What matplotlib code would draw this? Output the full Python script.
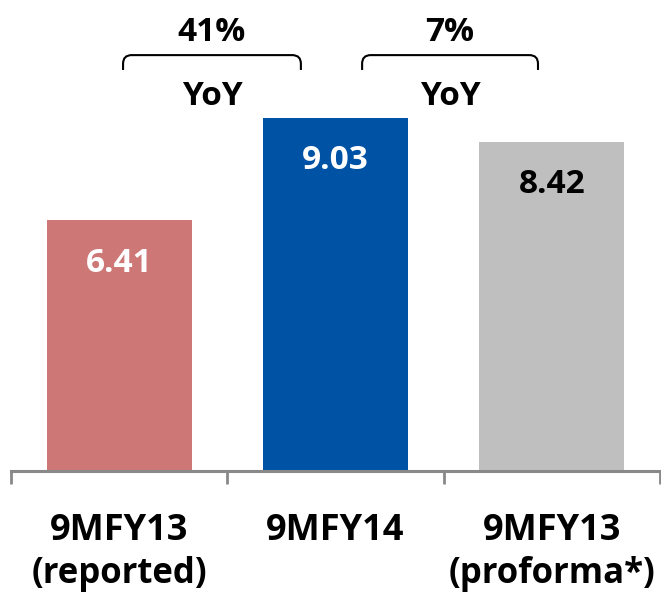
import matplotlib.pyplot as plt
from matplotlib.path import Path
from matplotlib.patches import PathPatch

cat_line1 = ['9MFY13', '9MFY14', '9MFY13']
cat_line2 = ['(reported)', '', '(proforma*)']
values = [6.41, 9.03, 8.42]
value_labels = ['6.41', '9.03', '8.42']
growth = ['41%', '7%']
growth_note = 'YoY'

colors = ['#CE7777', '#0052A5', '#BFBFBF']
label_colors = ['white', 'white', 'black']

plt.rcParams['font.family'] = ['Open Sans', 'DejaVu Sans']

fig = plt.figure(figsize=(6.61, 5.98), dpi=100)
ax = fig.add_axes([11 / 661, 1 - 471 / 598, 649 / 661, 471 / 598])

x = list(range(len(values)))
ax.bar(x, values, width=0.67, color=colors, zorder=2)
ax.set_xlim(-0.5, 2.5)
ax.set_ylim(0, 12.05)

for i, v in enumerate(values):
    ax.text(i, v - 1.31, value_labels[i], ha='center', va='baseline',
            fontsize=24, fontweight='bold', color=label_colors[i])

# axis styling
for s in ['top', 'left', 'right']:
    ax.spines[s].set_visible(False)
ax.spines['bottom'].set_color('#898989')
ax.spines['bottom'].set_linewidth(2.2)
ax.set_yticks([])
ax.set_xticks([-0.5, 0.5, 1.5, 2.5])
ax.tick_params(axis='x', length=9.5, width=2, color='#898989', labelbottom=False,
               direction='out')
for i in x:
    ax.text(i, -1.765, cat_line1[i], ha='center', va='baseline', fontsize=26,
            fontweight='bold')
    ax.text(i, -2.864, cat_line2[i], ha='center', va='baseline', fontsize=25,
            fontweight='bold')


def brace(x0, x1, y_top, y_end, rx=0.04, ry=0.22):
    verts = [(x0, y_end), (x0, y_top - ry), (x0, y_top), (x0 + rx, y_top),
             (x1 - rx, y_top), (x1, y_top), (x1, y_top - ry), (x1, y_end)]
    codes = [Path.MOVETO, Path.LINETO, Path.CURVE3, Path.CURVE3,
             Path.LINETO, Path.CURVE3, Path.CURVE3, Path.LINETO]
    ax.add_patch(PathPatch(Path(verts, codes), fill=False, lw=1.5,
                           edgecolor='black', clip_on=False))


brace_spans = [(0.018, 0.84), (1.123, 1.936)]
for (b0, b1), g in zip(brace_spans, growth):
    brace(b0, b1, 10.64, 10.26)
    mid = (b0 + b1) / 2
    ax.text(mid, 11.0, g, ha='center', va='baseline', fontsize=24, fontweight='bold')
    ax.text(mid, 9.36, growth_note, ha='center', va='baseline', fontsize=24,
            fontweight='bold')

fig.savefig('out.png', dpi=100)
